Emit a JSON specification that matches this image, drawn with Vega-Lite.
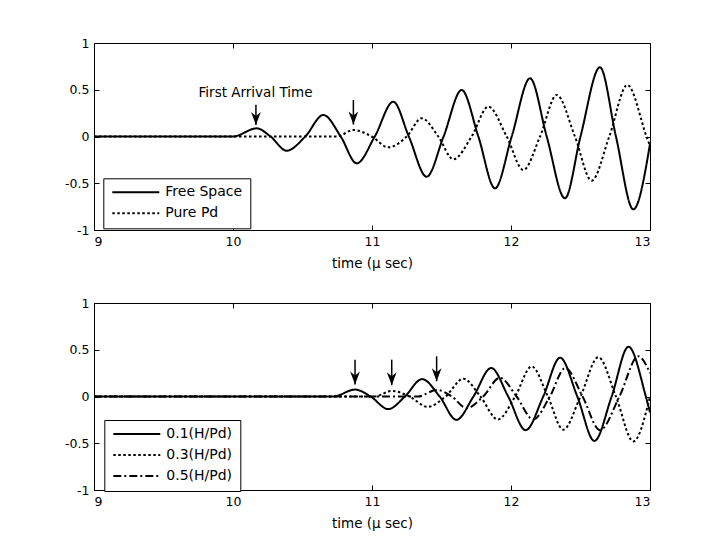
{
  "$schema": "https://vega.github.io/schema/vega-lite/v6.json",
  "background": "white",
  "padding": {"left": 64, "top": 36, "right": 5, "bottom": 5},
  "config": {
    "font": "DejaVu Sans",
    "view": {"stroke": "black", "strokeWidth": 1},
    "axis": {"domain": false, "grid": false, "offset": -5, "tickColor": "black", "tickSize": 5, "tickWidth": 1, "labelColor": "black", "labelFont": "DejaVu Sans", "labelFontSize": 12.5, "titleFont": "DejaVu Sans", "titleFontSize": 13.5, "titleFontWeight": "normal", "titleColor": "black"},
    "legend": {"orient": "none", "title": null, "symbolType": "stroke", "symbolSize": 2209, "symbolStrokeWidth": 2, "clipHeight": 12, "rowPadding": 7, "padding": 8, "strokeColor": "black", "fillColor": "white", "labelFontSize": 14, "labelFont": "DejaVu Sans", "labelOffset": 5, "labelColor": "black"}
  },
  "datasets": {
    "top": [
      {"series": "Free Space", "t": 9, "v": 0},
      {"series": "Free Space", "t": 10, "v": 0},
      {"series": "Free Space", "t": 10.17, "v": 0.087},
      {"series": "Free Space", "t": 10.27, "v": 0},
      {"series": "Free Space", "t": 10.386, "v": -0.152},
      {"series": "Free Space", "t": 10.52, "v": 0},
      {"series": "Free Space", "t": 10.65, "v": 0.23},
      {"series": "Free Space", "t": 10.775, "v": 0},
      {"series": "Free Space", "t": 10.89, "v": -0.287},
      {"series": "Free Space", "t": 11.02, "v": 0},
      {"series": "Free Space", "t": 11.153, "v": 0.372},
      {"series": "Free Space", "t": 11.265, "v": 0},
      {"series": "Free Space", "t": 11.393, "v": -0.43},
      {"series": "Free Space", "t": 11.515, "v": 0},
      {"series": "Free Space", "t": 11.645, "v": 0.497},
      {"series": "Free Space", "t": 11.765, "v": 0},
      {"series": "Free Space", "t": 11.885, "v": -0.554},
      {"series": "Free Space", "t": 12.005, "v": 0},
      {"series": "Free Space", "t": 12.137, "v": 0.622},
      {"series": "Free Space", "t": 12.257, "v": 0},
      {"series": "Free Space", "t": 12.388, "v": -0.661},
      {"series": "Free Space", "t": 12.5, "v": 0},
      {"series": "Free Space", "t": 12.64, "v": 0.74},
      {"series": "Free Space", "t": 12.755, "v": 0},
      {"series": "Free Space", "t": 12.88, "v": -0.779},
      {"series": "Free Space", "t": 13, "v": -0.08},
      {"series": "Pure Pd", "t": 9, "v": 0},
      {"series": "Pure Pd", "t": 10.75, "v": 0},
      {"series": "Pure Pd", "t": 10.866, "v": 0.07},
      {"series": "Pure Pd", "t": 10.998, "v": 0},
      {"series": "Pure Pd", "t": 11.117, "v": -0.116},
      {"series": "Pure Pd", "t": 11.25, "v": 0},
      {"series": "Pure Pd", "t": 11.357, "v": 0.195},
      {"series": "Pure Pd", "t": 11.477, "v": 0},
      {"series": "Pure Pd", "t": 11.585, "v": -0.244},
      {"series": "Pure Pd", "t": 11.717, "v": 0},
      {"series": "Pure Pd", "t": 11.837, "v": 0.319},
      {"series": "Pure Pd", "t": 11.969, "v": 0},
      {"series": "Pure Pd", "t": 12.089, "v": -0.358},
      {"series": "Pure Pd", "t": 12.209, "v": 0},
      {"series": "Pure Pd", "t": 12.329, "v": 0.444},
      {"series": "Pure Pd", "t": 12.46, "v": 0},
      {"series": "Pure Pd", "t": 12.58, "v": -0.472},
      {"series": "Pure Pd", "t": 12.707, "v": 0},
      {"series": "Pure Pd", "t": 12.837, "v": 0.551},
      {"series": "Pure Pd", "t": 12.975, "v": 0},
      {"series": "Pure Pd", "t": 13, "v": -0.1}
    ],
    "bottom": [
      {"series": "0.1(H/Pd)", "t": 9, "v": 0},
      {"series": "0.1(H/Pd)", "t": 10.72, "v": 0},
      {"series": "0.1(H/Pd)", "t": 10.878, "v": 0.074},
      {"series": "0.1(H/Pd)", "t": 10.99, "v": 0},
      {"series": "0.1(H/Pd)", "t": 11.117, "v": -0.135},
      {"series": "0.1(H/Pd)", "t": 11.237, "v": 0},
      {"series": "0.1(H/Pd)", "t": 11.36, "v": 0.186},
      {"series": "0.1(H/Pd)", "t": 11.487, "v": 0},
      {"series": "0.1(H/Pd)", "t": 11.607, "v": -0.25},
      {"series": "0.1(H/Pd)", "t": 11.73, "v": 0},
      {"series": "0.1(H/Pd)", "t": 11.857, "v": 0.305},
      {"series": "0.1(H/Pd)", "t": 11.98, "v": 0},
      {"series": "0.1(H/Pd)", "t": 12.105, "v": -0.36},
      {"series": "0.1(H/Pd)", "t": 12.232, "v": 0},
      {"series": "0.1(H/Pd)", "t": 12.353, "v": 0.415},
      {"series": "0.1(H/Pd)", "t": 12.477, "v": 0},
      {"series": "0.1(H/Pd)", "t": 12.6, "v": -0.475},
      {"series": "0.1(H/Pd)", "t": 12.724, "v": 0},
      {"series": "0.1(H/Pd)", "t": 12.845, "v": 0.532},
      {"series": "0.1(H/Pd)", "t": 12.97, "v": 0},
      {"series": "0.1(H/Pd)", "t": 13, "v": -0.17},
      {"series": "0.3(H/Pd)", "t": 9, "v": 0},
      {"series": "0.3(H/Pd)", "t": 11.02, "v": 0},
      {"series": "0.3(H/Pd)", "t": 11.142, "v": 0.06},
      {"series": "0.3(H/Pd)", "t": 11.27, "v": 0},
      {"series": "0.3(H/Pd)", "t": 11.4, "v": -0.11},
      {"series": "0.3(H/Pd)", "t": 11.53, "v": 0},
      {"series": "0.3(H/Pd)", "t": 11.657, "v": 0.19},
      {"series": "0.3(H/Pd)", "t": 11.78, "v": 0},
      {"series": "0.3(H/Pd)", "t": 11.905, "v": -0.245},
      {"series": "0.3(H/Pd)", "t": 12.03, "v": 0},
      {"series": "0.3(H/Pd)", "t": 12.149, "v": 0.322},
      {"series": "0.3(H/Pd)", "t": 12.265, "v": 0},
      {"series": "0.3(H/Pd)", "t": 12.376, "v": -0.355},
      {"series": "0.3(H/Pd)", "t": 12.5, "v": 0},
      {"series": "0.3(H/Pd)", "t": 12.628, "v": 0.42},
      {"series": "0.3(H/Pd)", "t": 12.755, "v": 0},
      {"series": "0.3(H/Pd)", "t": 12.88, "v": -0.48},
      {"series": "0.3(H/Pd)", "t": 13, "v": 0},
      {"series": "0.5(H/Pd)", "t": 9, "v": 0},
      {"series": "0.5(H/Pd)", "t": 11.33, "v": 0},
      {"series": "0.5(H/Pd)", "t": 11.465, "v": 0.07},
      {"series": "0.5(H/Pd)", "t": 11.575, "v": 0},
      {"series": "0.5(H/Pd)", "t": 11.68, "v": -0.125},
      {"series": "0.5(H/Pd)", "t": 11.8, "v": 0},
      {"series": "0.5(H/Pd)", "t": 11.92, "v": 0.2},
      {"series": "0.5(H/Pd)", "t": 12.04, "v": 0},
      {"series": "0.5(H/Pd)", "t": 12.16, "v": -0.245},
      {"series": "0.5(H/Pd)", "t": 12.28, "v": 0},
      {"series": "0.5(H/Pd)", "t": 12.39, "v": 0.305},
      {"series": "0.5(H/Pd)", "t": 12.515, "v": 0},
      {"series": "0.5(H/Pd)", "t": 12.64, "v": -0.36},
      {"series": "0.5(H/Pd)", "t": 12.78, "v": 0},
      {"series": "0.5(H/Pd)", "t": 12.916, "v": 0.43},
      {"series": "0.5(H/Pd)", "t": 13, "v": 0.25}
    ],
    "arrowsTop": [
      {"t": 10.165, "top": 0.34, "tip": 0.123},
      {"t": 10.866, "top": 0.39, "tip": 0.128}
    ],
    "arrowsBottom": [
      {"t": 10.878, "top": 0.394, "tip": 0.128},
      {"t": 11.142, "top": 0.394, "tip": 0.12},
      {"t": 11.465, "top": 0.43, "tip": 0.163}
    ],
    "labelTop": [
      {"t": 10.162, "v": 0.465, "label": "First Arrival Time"}
    ]
  },
  "spacing": 73,
  "bounds": "flush",
  "resolve": {"scale": {"strokeDash": "independent"}, "legend": {"strokeDash": "independent"}},
  "vconcat": [
    {
      "width": 556,
      "height": 187,
      "resolve": {"axis": {"x": "independent", "y": "independent"}},
      "layer": [
        {
          "data": {"name": "top"},
          "mark": {"type": "line", "interpolate": "monotone", "strokeWidth": 2, "color": "black"},
          "encoding": {
            "x": {"field": "t", "type": "quantitative", "scale": {"domain": [9, 13], "nice": false, "zero": false}, "axis": {"orient": "bottom", "values": [9, 10, 11, 12, 13], "labelPadding": 5, "title": "time (μ sec)", "titlePadding": 8.5}},
            "y": {"field": "v", "type": "quantitative", "scale": {"domain": [-1, 1], "nice": false}, "axis": {"orient": "left", "values": [-1, -0.5, 0, 0.5, 1], "labelExpr": "'' + datum.value", "labelPadding": 5, "title": null}},
            "strokeDash": {"field": "series", "type": "nominal", "scale": {"domain": ["Free Space", "Pure Pd"], "range": [[1, 0], [2.5, 2.5]]}, "legend": {"legendX": 9.3, "legendY": 135.3}}
          }
        },
        {
          "data": {"name": "arrowsTop"},
          "mark": {"type": "rule", "strokeWidth": 1.5, "color": "black"},
          "encoding": {
            "x": {"field": "t", "type": "quantitative", "scale": {"domain": [9, 13], "nice": false, "zero": false}, "axis": {"orient": "top", "values": [9, 10, 11, 12, 13], "labels": false, "title": null}},
            "y": {"field": "top", "type": "quantitative", "scale": {"domain": [-1, 1], "nice": false}, "axis": {"orient": "right", "values": [-1, -0.5, 0, 0.5, 1], "labels": false, "title": null}},
            "y2": {"field": "tip"}
          }
        },
        {
          "data": {"name": "arrowsTop"},
          "mark": {"type": "point", "shape": "M0,0L-0.75,-2L0,-1.4L0.75,-2Z", "size": 169, "filled": true, "color": "black", "opacity": 1},
          "encoding": {
            "x": {"field": "t", "type": "quantitative", "scale": {"domain": [9, 13], "nice": false, "zero": false}, "axis": null},
            "y": {"field": "tip", "type": "quantitative", "scale": {"domain": [-1, 1], "nice": false}, "axis": null}
          }
        },
        {
          "data": {"name": "labelTop"},
          "mark": {"type": "text", "fontSize": 13.5, "font": "DejaVu Sans", "color": "black"},
          "encoding": {
            "x": {"field": "t", "type": "quantitative", "scale": {"domain": [9, 13], "nice": false, "zero": false}, "axis": null},
            "y": {"field": "v", "type": "quantitative", "scale": {"domain": [-1, 1], "nice": false}, "axis": null},
            "text": {"field": "label"}
          }
        }
      ]
    },
    {
      "width": 556,
      "height": 187,
      "resolve": {"axis": {"x": "independent", "y": "independent"}},
      "layer": [
        {
          "data": {"name": "bottom"},
          "mark": {"type": "line", "interpolate": "monotone", "strokeWidth": 2, "color": "black"},
          "encoding": {
            "x": {"field": "t", "type": "quantitative", "scale": {"domain": [9, 13], "nice": false, "zero": false}, "axis": {"orient": "bottom", "values": [9, 10, 11, 12, 13], "labelPadding": 5, "title": "time (μ sec)", "titlePadding": 8.5}},
            "y": {"field": "v", "type": "quantitative", "scale": {"domain": [-1, 1], "nice": false}, "axis": {"orient": "left", "values": [-1, -0.5, 0, 0.5, 1], "labelExpr": "'' + datum.value", "labelPadding": 5, "title": null}},
            "strokeDash": {"field": "series", "type": "nominal", "scale": {"domain": ["0.1(H/Pd)", "0.3(H/Pd)", "0.5(H/Pd)"], "range": [[1, 0], [2.5, 2.5], [8, 3, 2, 3]]}, "legend": {"legendX": 10.3, "legendY": 117}}
          }
        },
        {
          "data": {"name": "arrowsBottom"},
          "mark": {"type": "rule", "strokeWidth": 1.5, "color": "black"},
          "encoding": {
            "x": {"field": "t", "type": "quantitative", "scale": {"domain": [9, 13], "nice": false, "zero": false}, "axis": {"orient": "top", "values": [9, 10, 11, 12, 13], "labels": false, "title": null}},
            "y": {"field": "top", "type": "quantitative", "scale": {"domain": [-1, 1], "nice": false}, "axis": {"orient": "right", "values": [-1, -0.5, 0, 0.5, 1], "labels": false, "title": null}},
            "y2": {"field": "tip"}
          }
        },
        {
          "data": {"name": "arrowsBottom"},
          "mark": {"type": "point", "shape": "M0,0L-0.75,-2L0,-1.4L0.75,-2Z", "size": 169, "filled": true, "color": "black", "opacity": 1},
          "encoding": {
            "x": {"field": "t", "type": "quantitative", "scale": {"domain": [9, 13], "nice": false, "zero": false}, "axis": null},
            "y": {"field": "tip", "type": "quantitative", "scale": {"domain": [-1, 1], "nice": false}, "axis": null}
          }
        }
      ]
    }
  ]
}
